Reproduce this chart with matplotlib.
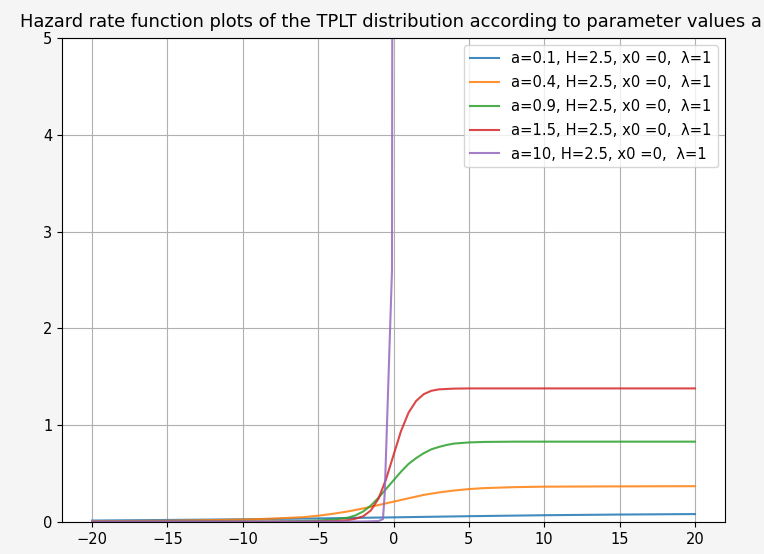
import numpy as np
import matplotlib
matplotlib.use('Agg')
import matplotlib.pyplot as plt

# values
x_blue = [-20, -15, -10, -5, 0, 5, 10, 15, 20]
h_blue = [0.015, 0.021, 0.028, 0.037, 0.048, 0.060, 0.070, 0.077, 0.082]

x_orange = [-20, -15, -10, -8, -6, -5, -4, -3, -2, -1, 0, 1, 2, 3, 4, 5, 6, 8, 10, 15, 20]
h_orange = [0.008, 0.013, 0.025, 0.035, 0.05, 0.065, 0.085, 0.11, 0.14, 0.175, 0.21,
            0.245, 0.28, 0.305, 0.325, 0.34, 0.35, 0.36, 0.365, 0.368, 0.37]

x_green = [-20, -8, -6, -5, -4, -3, -2.5, -2, -1.5, -1, -0.5, 0, 0.5, 1, 1.5, 2, 2.5,
           3, 3.5, 4, 5, 6, 8, 20]
h_green = [0.003, 0.006, 0.01, 0.015, 0.025, 0.045, 0.07, 0.11, 0.17, 0.25, 0.34, 0.43,
           0.52, 0.60, 0.66, 0.71, 0.75, 0.775, 0.795, 0.81, 0.822, 0.827, 0.83, 0.83]

x_red = [-20, -6, -4, -3, -2.5, -2, -1.5, -1, -0.5, 0, 0.5, 1, 1.5, 2, 2.5, 3, 4, 5, 20]
h_red = [0.0, 0.002, 0.008, 0.02, 0.035, 0.06, 0.12, 0.24, 0.44, 0.69, 0.94, 1.13,
         1.25, 1.32, 1.355, 1.37, 1.378, 1.38, 1.38]

x_purple = [-20, -5, -2, -1, -0.7, -0.58, -0.1, -0.05, 0, 20]
h_purple = [0.005, 0.005, 0.005, 0.01, 0.03, 0.3, 2.6, 9.2, 9.2, 9.2]

labels = ['a=0.1, H=2.5, x0 =0,  λ=1',
          'a=0.4, H=2.5, x0 =0,  λ=1',
          'a=0.9, H=2.5, x0 =0,  λ=1',
          'a=1.5, H=2.5, x0 =0,  λ=1',
          'a=10, H=2.5, x0 =0,  λ=1']

title = 'Hazard rate function plots of the TPLT distribution according to parameter values a'

fig = plt.figure(figsize=(7.64, 5.54), dpi=100, facecolor='#f5f5f5')
ax = fig.add_axes([62/764, 1 - 522/554, (725 - 62)/764, (522 - 38)/554])

ax.plot(x_blue, h_blue, label=labels[0], alpha=0.85)
ax.plot(x_orange, h_orange, label=labels[1], alpha=0.85)
ax.plot(x_green, h_green, label=labels[2], alpha=0.85)
ax.plot(x_red, h_red, label=labels[3], alpha=0.85)
ax.plot(x_purple, h_purple, label=labels[4], alpha=0.85)

ax.set_ylim(0, 5)
ax.set_xticks(np.arange(-20, 21, 5))
ax.set_yticks(np.arange(0, 6, 1))
ax.tick_params(labelsize=10.5)
ax.grid(True)
ax.legend(loc='upper right', fontsize=10.6, labelspacing=0.6)

fig.text(20/764, 1 - 27/554, title, ha='left', va='baseline', fontsize=12.9)

fig.savefig('out.png', facecolor=fig.get_facecolor())
